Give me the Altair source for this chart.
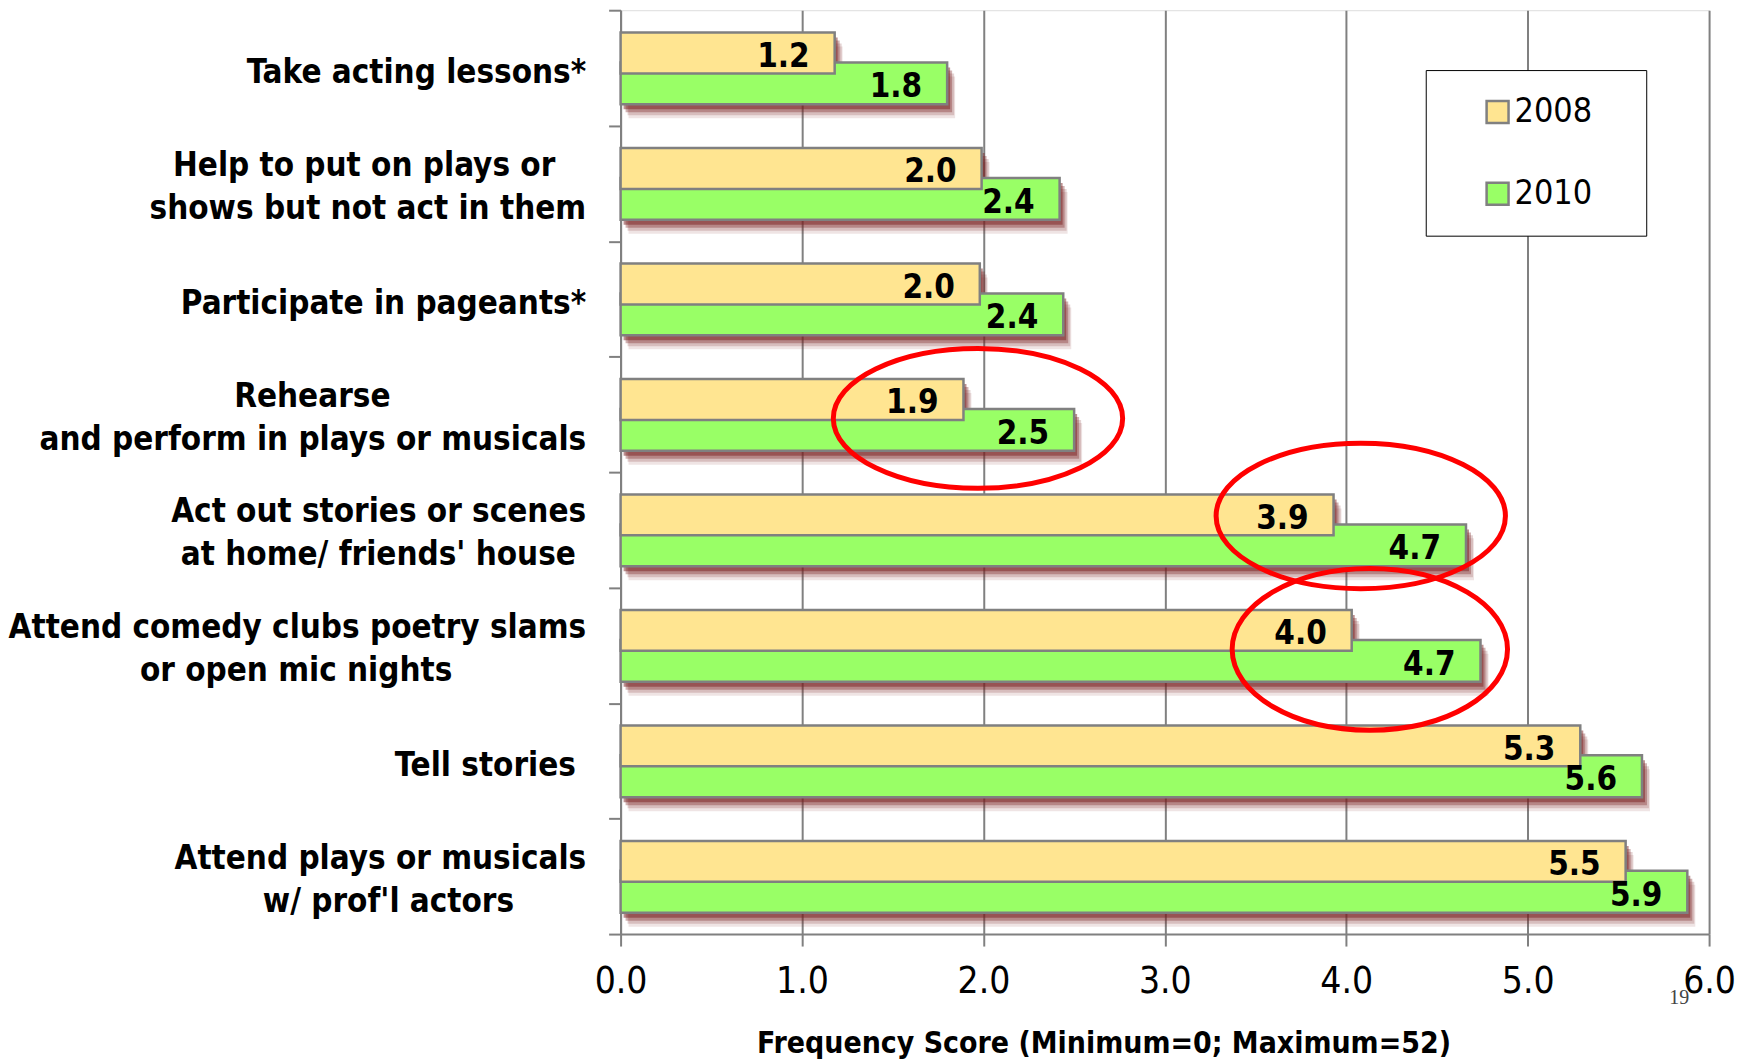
import altair as alt
import pandas as pd

categories = [
    "Take acting lessons*",
    "Help to put on plays or\nshows but not act in them",
    "Participate in pageants*",
    "Rehearse\nand perform in plays or musicals",
    "Act out stories or scenes\nat home/ friends' house",
    "Attend comedy clubs poetry slams\nor open mic nights",
    "Tell stories",
    "Attend plays or musicals\nw/ prof'l actors",
]
years = ["2008", "2010"]
values_2008 = [1.18, 1.99, 1.98, 1.89, 3.93, 4.03, 5.29, 5.54]
values_2010 = [1.80, 2.42, 2.44, 2.50, 4.66, 4.74, 5.63, 5.88]
x_ticks = [0, 1, 2, 3, 4, 5, 6]
x_title = "Frequency Score (Minimum=0; Maximum=52)"

ellipse_index = [3, 4, 5]
ellipse_centers = [1.97, 4.08, 4.13]

# lines of each label are centred on one another: the shorter line is padded
# on its right with no-break spaces (labels are right-aligned at the axis);
# a zero-width space keeps the padding from being trimmed.
NBSP = "\u00a0"
ZWSP = "\u200b"
centering_pad = [0, 3, 0, 19, 1, 13, 1, 7]


def centred(label, n):
    lines = label.split("\n")
    if n == 0:
        return label
    i = min(range(len(lines)), key=lambda k: len(lines[k]))
    lines[i] = lines[i] + NBSP * n + ZWSP
    return "\n".join(lines)


labels = [centred(c, n) for c, n in zip(categories, centering_pad)]

rows = []
for c, v8, v10 in zip(labels, values_2008, values_2010):
    rows.append({"category": c, "year": "2008", "value": v8})
    rows.append({"category": c, "year": "2010", "value": v10})
df = pd.DataFrame(rows)

FONT = "DejaVu Sans Condensed"
YELLOW = "#FFE591"
GREEN = "#99FF66"
GRAY = "#808080"

y_enc = alt.Y(
    "category:N",
    sort=labels,
    scale=alt.Scale(paddingInner=0, paddingOuter=0),
    axis=alt.Axis(
        title=None,
        labelExpr="split(datum.label, '\\n')",
        labelFont=FONT,
        labelFontSize=33,
        labelFontWeight="bold",
        labelColor="black",
        labelLineHeight=43,
        labelPadding=23,
        labelOffset={"condition": {"test": "indexof(datum.label, '\\n') >= 0", "value": -18}, "value": 5},
        labelLimit=900,
        tickSize=12,
        tickColor=GRAY,
        tickWidth=2,
        tickBand="extent",
        domainColor=GRAY,
        domainWidth=2,
    ),
)
x_enc = alt.X(
    "value:Q",
    scale=alt.Scale(domain=[0, 6], nice=False),
    axis=alt.Axis(
        values=x_ticks,
        format=".1f",
        title=x_title,
        grid=True,
        gridColor=GRAY,
        gridWidth=2,
        tickSize=12,
        tickColor=GRAY,
        tickWidth=2,
        domainColor=GRAY,
        domainWidth=2,
        labelFont=FONT,
        labelFontSize=37,
        labelColor="black",
        labelPadding=18,
        labelFlush=False,
        titleFont=FONT,
        titleFontSize=30,
        titleFontWeight="bold",
        titleColor="black",
        titlePadding=29,
        titleX=484,
        titleAlign="center",
    ),
)

base = alt.Chart(df)
layers = []

offsets = {"2008": -15, "2010": 15.5}
heights = {"2008": 41, "2010": 42}

# soft drop shadows
for yr in years:
    for dx, dy, op in [(3, 5, 0.5), (5, 8, 0.35), (7, 11, 0.2), (8, 14, 0.12)]:
        layers.append(
            base.transform_filter(alt.datum.year == yr)
            .mark_bar(height=heights[yr], yOffset=offsets[yr] + dy, xOffset=dx,
                      color="#7A2222", opacity=op)
            .encode(x=x_enc, y=y_enc)
        )

color_enc = alt.Color(
    "year:N",
    scale=alt.Scale(domain=years, range=[YELLOW, GREEN]),
    legend=alt.Legend(
        title=None,
        orient="none",
        legendX=807,
        legendY=60,
        fillColor="white",
        strokeColor="black",
        padding=25,
        symbolType="square",
        symbolSize=484,
        symbolStrokeColor=GRAY,
        symbolStrokeWidth=2.5,
        symbolOffset=30,
        labelFont=FONT,
        labelFontSize=34,
        labelColor="black",
        labelExpr="datum.label + '" + NBSP * 3 + ZWSP + "'",
        rowPadding=48,
        labelOffset=0,
    ),
)

for yr in ["2010", "2008"]:
    layers.append(
        base.transform_filter(alt.datum.year == yr)
        .mark_bar(height=heights[yr], yOffset=offsets[yr], stroke=GRAY, strokeWidth=2.5)
        .encode(x=x_enc, y=y_enc, color=color_enc)
    )

for yr in years:
    layers.append(
        base.transform_filter(alt.datum.year == yr)
        .mark_text(align="right", baseline="middle", dx=-25, yOffset=offsets[yr] + 4,
                   font=FONT, fontSize=33, fontWeight="bold", color="black")
        .encode(x=x_enc, y=y_enc, text=alt.Text("value:Q", format=".1f"))
    )

ell_specs = [(145, 70, 4), (145, 73, -14), (138, 81, 4)]
for idx, xc, (rx, ry, dy) in zip(ellipse_index, ellipse_centers, ell_specs):
    ratio = ry / rx
    path = f"M -1 0 A 1 {ratio:.3f} 0 1 0 1 0 A 1 {ratio:.3f} 0 1 0 -1 0 Z"
    edf = pd.DataFrame({"category": [labels[idx]], "value": [xc]})
    layers.append(
        alt.Chart(edf).mark_point(shape=path, size=(2 * rx) ** 2, filled=False,
                                  stroke="#FF0000", strokeWidth=5, opacity=1, yOffset=dy)
        .encode(x=x_enc, y=y_enc)
    )

layers.append(
    alt.Chart(pd.DataFrame({"t": ["19"]}))
    .mark_text(font="Liberation Serif", fontSize=20, color="#444444", align="center")
    .encode(text="t:N", x=alt.value(1061), y=alt.value(990))
)

chart = (
    alt.layer(*layers)
    .properties(
        width=1091,
        height=926,
        padding={"left": 614, "top": 1, "right": 37, "bottom": 124},
        autosize=alt.AutoSizeParams(type="none"),
    )
    .configure_view(fill="#D9D9D9", stroke=None)
    .configure_legend(strokeWidth=3)
    .configure(background="white")
)

chart.save("out.html", embed_options={"renderer": "svg", "actions": False})
